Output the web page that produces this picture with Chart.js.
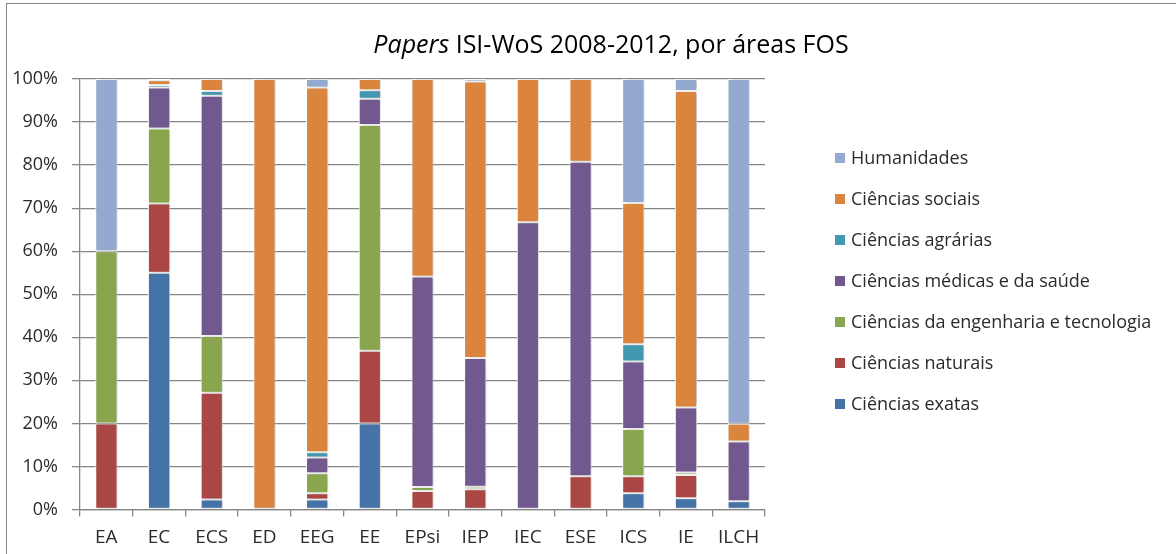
<!DOCTYPE html>
<html>
<head>
<meta charset="utf-8">
<script src="https://cdn.jsdelivr.net/npm/chart.js@4.4.1/dist/chart.umd.min.js"></script>
<style>
  html, body { margin: 0; padding: 0; background: #fff; overflow: hidden; }
  #wrap { position: relative; width: 1176px; height: 554px; }
</style>
</head>
<body>
<div id="wrap"><canvas id="grafico" width="1176" height="554"></canvas></div>
<script>
// Unidades orgânicas (categorias)
const unidades = ["EA", "EC", "ECS", "ED", "EEG", "EE", "EPsi", "IEP", "IEC", "ESE", "ICS", "IE", "ILCH"];

// Percentagens por área FOS (de baixo para cima)
const exatas      = [0, 55, 2.3, 0, 2.3, 20, 0.2, 0.2, 0, 0, 3.8, 2.6, 1.9];
const naturais    = [20, 16.1, 24.8, 0, 1.5, 16.9, 4.1, 4.5, 0, 7.7, 3.9, 5.4, 0];
const engenharia  = [40, 17.4, 13.2, 0, 4.6, 52.4, 0.9, 0.6, 0, 0, 11.0, 0.6, 0];
const medicas     = [0, 9.5, 55.8, 0, 3.7, 6.1, 48.9, 29.9, 66.7, 73.1, 15.7, 15.1, 13.9];
const agrarias    = [0, 0.6, 1.1, 0, 1.2, 2.0, 0, 0, 0, 0, 4.0, 0, 0];
const sociais     = [0, 1.1, 2.8, 100, 84.7, 2.6, 45.9, 64.2, 33.3, 19.2, 32.8, 73.5, 4.1];
const humanidades = [40, 0.3, 0, 0, 2.0, 0, 0, 0.6, 0, 0, 28.8, 2.8, 80.1];

const tituloItalico = "Papers";
const tituloResto = " ISI-WoS 2008-2012, por áreas FOS";

const fonte = "'Open Sans', 'DejaVu Sans', sans-serif";
const corTexto = "#2b2b2b";
const corGrelha = "#868686";

function serie(label, data, cor) {
  return {
    label: label,
    data: data,
    backgroundColor: cor,
    borderColor: "#ffffff",
    borderWidth: 1,
    borderSkipped: false,
    barPercentage: 0.42,
    categoryPercentage: 1,
  };
}

// moldura, título e legenda desenhados no canvas
const extras = {
  id: "extras",
  beforeDraw(chart) {
    const ctx = chart.ctx;
    ctx.save();
    ctx.strokeStyle = corGrelha;
    ctx.lineWidth = 1;
    ctx.strokeRect(6.5, 3.5, 1400, 800);
    ctx.restore();
  },
  beforeDatasetsDraw(chart) {
    const ctx = chart.ctx;
    ctx.save();
    ctx.shadowColor = "rgba(0,0,0,0.28)";
    ctx.shadowBlur = 3;
    ctx.shadowOffsetX = 1.5;
    ctx.shadowOffsetY = 0;
  },
  afterDatasetsDraw(chart) {
    chart.ctx.restore();
  },
  afterDraw(chart) {
    const ctx = chart.ctx;
    ctx.save();
    // título
    ctx.fillStyle = "#000";
    ctx.textBaseline = "alphabetic";
    ctx.font = "italic 25px " + fonte;
    const w1 = ctx.measureText(tituloItalico).width;
    ctx.font = "25px " + fonte;
    const w2 = ctx.measureText(tituloResto).width;
    let x = 611 - (w1 + w2) / 2;
    ctx.font = "italic 25px " + fonte;
    ctx.fillText(tituloItalico, x, 53);
    ctx.font = "25px " + fonte;
    ctx.fillText(tituloResto, x + w1, 53);

    // legenda (ordem inversa)
    const ds = chart.data.datasets.slice().reverse();
    ctx.font = "18px " + fonte;
    ctx.textBaseline = "middle";
    ds.forEach((d, i) => {
      const y = 158 + i * 41;
      ctx.fillStyle = d.backgroundColor;
      ctx.fillRect(835, y - 5, 10, 10);
      ctx.fillStyle = corTexto;
      ctx.fillText(d.label, 851, y + 1);
    });
    ctx.restore();
  },
};

const ctx = document.getElementById("grafico").getContext("2d");
new Chart(ctx, {
  type: "bar",
  data: {
    labels: unidades,
    datasets: [
      serie("Ciências exatas", exatas, "#4572A7"),
      serie("Ciências naturais", naturais, "#AA4643"),
      serie("Ciências da engenharia e tecnologia", engenharia, "#89A54E"),
      serie("Ciências médicas e da saúde", medicas, "#71588F"),
      serie("Ciências agrárias", agrarias, "#4198AF"),
      serie("Ciências sociais", sociais, "#DB843D"),
      serie("Humanidades", humanidades, "#93A9CF"),
    ],
  },
  options: {
    responsive: false,
    animation: false,
    layout: {
      padding: { top: 79, right: 411, bottom: 0, left: 0 },
    },
    plugins: {
      legend: { display: false },
      title: { display: false },
      tooltip: { enabled: false },
    },
    scales: {
      x: {
        stacked: true,
        afterFit(scale) { scale.height = 44.5; },
        grid: {
          offset: true,
          drawOnChartArea: false,
          drawTicks: true,
          tickLength: 7,
          color: corGrelha,
          lineWidth: 1.3,
        },
        border: { color: corGrelha, width: 1.3 },
        ticks: {
          color: corTexto,
          padding: 10,
          font: { family: fonte, size: 19 },
        },
      },
      y: {
        stacked: true,
        min: 0,
        max: 100,
        afterFit(scale) { scale.width = 80; },
        grid: {
          color: corGrelha,
          lineWidth: 1.3,
          tickLength: 8,
        },
        border: { color: corGrelha, width: 1.3 },
        ticks: {
          stepSize: 10,
          color: corTexto,
          padding: 14,
          font: { family: fonte, size: 18 },
          callback: (v) => v + "%",
        },
      },
    },
  },
  plugins: [extras],
});
</script>
</body>
</html>
